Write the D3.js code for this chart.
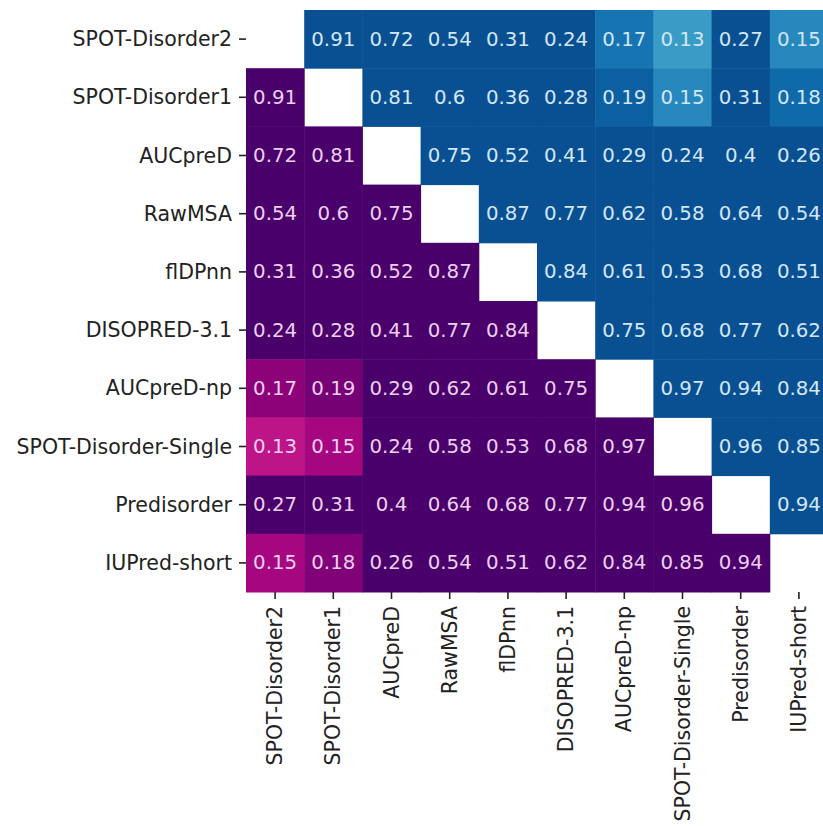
<!DOCTYPE html>
<html>
<head>
<meta charset="utf-8">
<script src="https://cdn.jsdelivr.net/npm/d3@7"></script>
<style>
  html, body { margin: 0; padding: 0; background: #fff; }
  svg { display: block; font-family: "DejaVu Sans", sans-serif; }
</style>
</head>
<body>
<svg id="chart" width="823" height="826"></svg>
<script>
// Predictors compared pairwise
const predictors = [
  "SPOT-Disorder2", "SPOT-Disorder1", "AUCpreD", "RawMSA", "flDPnn",
  "DISOPRED-3.1", "AUCpreD-np", "SPOT-Disorder-Single", "Predisorder", "IUPred-short"
];

// Pairwise similarity, one row per predictor (null on the diagonal)
const rowSpotDisorder2      = [null, 0.91, 0.72, 0.54, 0.31, 0.24, 0.17, 0.13, 0.27, 0.15];
const rowSpotDisorder1      = [0.91, null, 0.81, 0.60, 0.36, 0.28, 0.19, 0.15, 0.31, 0.18];
const rowAUCpreD            = [0.72, 0.81, null, 0.75, 0.52, 0.41, 0.29, 0.24, 0.40, 0.26];
const rowRawMSA             = [0.54, 0.60, 0.75, null, 0.87, 0.77, 0.62, 0.58, 0.64, 0.54];
const rowFlDPnn             = [0.31, 0.36, 0.52, 0.87, null, 0.84, 0.61, 0.53, 0.68, 0.51];
const rowDisopred           = [0.24, 0.28, 0.41, 0.77, 0.84, null, 0.75, 0.68, 0.77, 0.62];
const rowAUCpreDnp          = [0.17, 0.19, 0.29, 0.62, 0.61, 0.75, null, 0.97, 0.94, 0.84];
const rowSpotDisorderSingle = [0.13, 0.15, 0.24, 0.58, 0.53, 0.68, 0.97, null, 0.96, 0.85];
const rowPredisorder        = [0.27, 0.31, 0.40, 0.64, 0.68, 0.77, 0.94, 0.96, null, 0.94];
const rowIUPredShort        = [0.15, 0.18, 0.26, 0.54, 0.51, 0.62, 0.84, 0.85, 0.94, null];

const matrix = [
  rowSpotDisorder2, rowSpotDisorder1, rowAUCpreD, rowRawMSA, rowFlDPnn,
  rowDisopred, rowAUCpreDnp, rowSpotDisorderSingle, rowPredisorder, rowIUPredShort
];

const svg = d3.select("#chart");

const gridLeft = 246, gridTop = 10, cell = 58.2;
const n = predictors.length;

const x = d3.scaleBand().domain(predictors).range([gridLeft, gridLeft + cell * n]).padding(0);
const y = d3.scaleBand().domain(predictors).range([gridTop, gridTop + cell * n]).padding(0);

// Upper triangle: GnBu, lower triangle: RdPu, both saturating for larger values
const upperT = d3.scaleLinear().domain([-0.08, 0.205]).range([0, 0.95]).clamp(true);
const lowerT = d3.scaleLinear().domain([-0.106, 0.227]).range([0, 1]).clamp(true);
const upperColor = v => d3.interpolateGnBu(upperT(v));
const lowerColor = v => d3.interpolateRdPu(lowerT(v));

const cells = [];
matrix.forEach((row, i) => row.forEach((v, j) => {
  if (v !== null) cells.push({ r: predictors[i], c: predictors[j], i, j, v });
}));

const fmt = d3.format(".2~g");

const g = svg.append("g");
g.selectAll("rect")
  .data(cells)
  .join("rect")
  .attr("x", d => x(d.c))
  .attr("y", d => y(d.r))
  .attr("width", x.bandwidth() + 0.5)
  .attr("height", y.bandwidth() + 0.5)
  .attr("fill", d => d.j > d.i ? upperColor(d.v) : lowerColor(d.v));

g.selectAll("text")
  .data(cells)
  .join("text")
  .attr("x", d => x(d.c) + x.bandwidth() / 2)
  .attr("y", d => y(d.r) + y.bandwidth() / 2)
  .attr("text-anchor", "middle")
  .attr("dominant-baseline", "central")
  .attr("font-size", "19.8px")
  .attr("fill", d => d.j > d.i ? "#d3e6f6" : "#ecd0ee")
  .text(d => fmt(d.v));

// Axes
const tickLen = 7, tickPad = 7;

const yAxis = svg.append("g")
  .attr("transform", `translate(${gridLeft},0)`)
  .call(d3.axisLeft(y).tickSize(tickLen).tickPadding(tickPad));
const xAxis = svg.append("g")
  .attr("transform", `translate(0,${gridTop + cell * n})`)
  .call(d3.axisBottom(x).tickSize(tickLen).tickPadding(tickPad));

[xAxis, yAxis].forEach(a => {
  a.select(".domain").remove();
  a.selectAll(".tick line").attr("stroke", "#222").attr("stroke-width", 1.6);
  a.selectAll(".tick text").attr("fill", "#222").attr("font-size", "20.5px")
    .attr("font-family", "DejaVu Sans, sans-serif");
});

yAxis.selectAll(".tick text").attr("dy", "0.35em");

xAxis.selectAll(".tick text")
  .attr("text-anchor", "end")
  .attr("dy", "0.35em")
  .attr("x", 0)
  .attr("y", 0)
  .attr("transform", `translate(0,${tickLen + tickPad}) rotate(-90)`);
</script>
</body>
</html>
